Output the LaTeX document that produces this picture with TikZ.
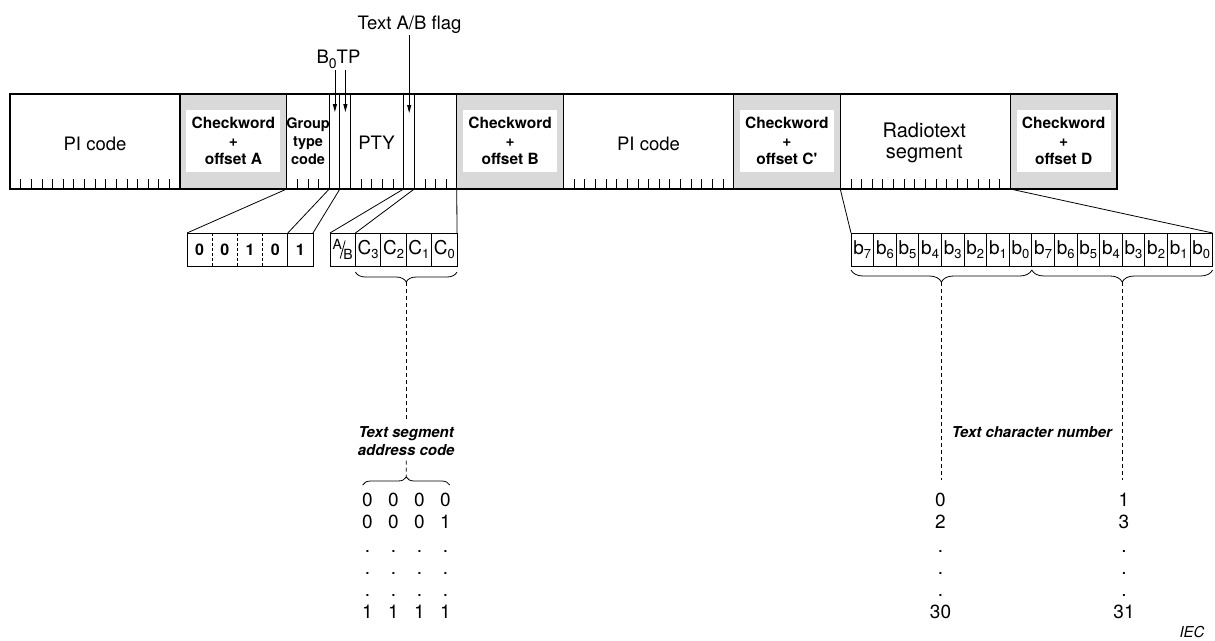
\documentclass[tikz,border=0pt]{standalone}
\usepackage{fontspec}
\setmainfont{TeX Gyre Heros}
\usetikzlibrary{arrows.meta,decorations.pathreplacing,calc}
\definecolor{cwgray}{RGB}{217,217,217}
\newcommand{\subx}[2]{#1\raisebox{-4.5pt}{\fontsize{13}{13}\selectfont #2}}
\begin{document}
\begin{tikzpicture}[x=1pt,y=-1pt,
 every node/.style={inner sep=0pt, outer sep=0pt},
 blk/.style={draw=black, line width=1.1pt, anchor=north west, minimum height=95pt},
 datab/.style={blk, fill=white, minimum width=170pt},
 cwb/.style={blk, fill=cwgray, minimum width=106.75pt},
 cwin/.style={fill=white, minimum width=94pt, minimum height=62pt, align=center, font=\fontsize{15.5}{18}\selectfont\bfseries},
 lbl/.style={font=\fontsize{18.5}{20}\selectfont, align=center},
 tick/.style={line width=0.7pt},
 sepl/.style={line width=0.9pt},
 link/.style={line width=0.8pt},
 arr/.style={line width=0.8pt, -{Triangle[length=8pt,width=4pt]}},
 bitc/.style={draw, line width=0.9pt, anchor=north west, minimum height=33pt},
 dsh/.style={line width=0.8pt, dash pattern=on 4pt off 3pt},
 brc/.style={decorate, line width=0.8pt},
 num/.style={anchor=base, font=\fontsize{19}{20}\selectfont},
 ital/.style={font=\fontsize{15}{18}\selectfont\bfseries\itshape, align=center},
]
\useasboundingbox (0,0) rectangle (1215,640);

% main bar
\node[datab] (piA) at (10,94) {};
\node[cwb] (cwA) at (180,94) {};
\node[datab] (blkB) at (286.75,94) {};
\node[cwb] (cwB) at (456.75,94) {};
\node[datab] (piC) at (563.5,94) {};
\node[cwb] (cwC) at (733.5,94) {};
\node[datab] (rtD) at (840.25,94) {};
\node[cwb] (cwD) at (1010.25,94) {};

\node[cwin] (cwAi) at ($(cwA.center)+(0,-1)$) {Checkword\\+\\offset A};
\node[cwin] (cwBi) at ($(cwB.center)+(0,-1)$) {Checkword\\+\\offset B};
\node[cwin] (cwCi) at ($(cwC.center)+(0,-1)$) {Checkword\\+\\offset C\textquotesingle};
\node[cwin] (cwDi) at ($(cwD.center)+(0,-1)$) {Checkword\\+\\offset D};

% ticks
\foreach \s in {10,563.5,840.25}{\foreach \k in {1,...,15}{\draw[tick] ({\s+\k*10.625},179) -- ({\s+\k*10.625},189);}}
\foreach \k in {1,2,3,7,8,9,10,13,14,15}{\draw[tick] ({286.75+\k*10.625},179) -- ({286.75+\k*10.625},189);}
\foreach \k in {4,5,6,11,12}{\draw[sepl] ({286.75+\k*10.625},94) -- ({286.75+\k*10.625},189);}

% labels in bar
\node[lbl] (piAt) at ($(piA.center)+(0,2.5)$) {PI code};
\node[lbl] (piCt) at ($(piC.center)+(0,2.5)$) {PI code};
\node[font=\fontsize{20}{21}\selectfont, align=center] (rtDt) at ($(rtD.center)+(-1,1.5)$) {Radiotext\\segment};
\node[font=\fontsize{14.5}{18}\selectfont\bfseries, align=center] (gtc) at (308.1,141) {Group\\type\\code};
\node[lbl] (pty) at (376.5,143) {PTY};

% top labels and arrows
\node[anchor=base, font=\fontsize{18.5}{20}\selectfont] (b0tp) at (338.5,63) {B\raisebox{-5pt}{\fontsize{14}{14}\selectfont 0}TP};
\node[anchor=base, font=\fontsize{18.5}{20}\selectfont] (abflag) at (409.5,29) {Text A/B flag};
\coordinate (b0s) at (334.9,70); \coordinate (b0e) at (334.9,112);
\coordinate (tps) at (345.4,70); \coordinate (tpe) at (345.4,112);
\coordinate (abs) at (409.2,35); \coordinate (abe) at (409.2,113);
\draw[arr] (b0s) -- (b0e);
\draw[arr] (tps) -- (tpe);
\draw[arr] (abs) -- (abe);

% left bit cells (group type code + B0)
\foreach \i/\v in {0/0,1/0,2/1,3/0,4/1}{
  \node[anchor=north west, minimum width=25.2pt, minimum height=33pt, font=\fontsize{16}{16}\selectfont\bfseries] (q\i) at ({187+\i*25.2},233) {\v};
}
\draw[line width=0.9pt] (q0.north west) rectangle (q4.south east);
\foreach \i in {1,2,3}{\draw[line width=0.7pt, dash pattern=on 3pt off 2pt] (q\i.north west) -- (q\i.south west);}
\draw[line width=0.9pt] (q4.north west) -- (q4.south west);

% A/B and segment address cells
\node[bitc, minimum width=25.4pt, font=\fontsize{14}{14}\selectfont] (ab) at (330,233) {\raisebox{5pt}{A}\hspace{1.5pt}\raisebox{-5.5pt}{B}};
\draw[line width=0.8pt] ($(ab.center)+(2.5,-9)$) -- ($(ab.center)+(-2.5,9)$);
\node[bitc, minimum width=25.4pt, font=\fontsize{19}{19}\selectfont] (c3) at (355.4,233) {\subx{C}{3}};
\node[bitc, minimum width=25.4pt, font=\fontsize{19}{19}\selectfont] (c2) at (380.8,233) {\subx{C}{2}};
\node[bitc, minimum width=25.4pt, font=\fontsize{19}{19}\selectfont] (c1) at (406.2,233) {\subx{C}{1}};
\node[bitc, minimum width=25.4pt, font=\fontsize{19}{19}\selectfont] (c0) at (431.6,233) {\subx{C}{0}};

% expansion lines (left)
\coordinate (gb4) at (329.25,189);
\coordinate (gb5) at (339.875,189);
\coordinate (gb11) at (403.625,189);
\coordinate (gb12) at (414.25,189);
\draw[link] (blkB.south west) -- (q0.north west);
\draw[link] (gb4) -- (q4.north west);
\draw[link] (gb5) -- (q4.north east);
\draw[link] (gb11) -- (ab.north west);
\draw[link] (gb12) -- (c3.north west);
\draw[link] (cwB.south west) -- (c0.north east);

% right bit cells
\foreach \i/\v in {1/7,2/6,3/5,4/4,5/3,6/2,7/1,8/0,9/7,10/6,11/5,12/4,13/3,14/2,15/1,16/0}{
  \node[bitc, minimum width=22.6pt, font=\fontsize{19}{19}\selectfont] (r\i) at ({851+(\i-1)*22.6},233) {\subx{b}{\v}};
}
\draw[link] (rtD.south west) -- (r1.north west);
\draw[link] (cwD.south west) -- (r16.north east);

% braces
\draw[brc, decoration={brace,mirror,amplitude=10pt}] ($(c3.south west)+(0,6)$) -- ($(c0.south east)+(0,6)$);
\coordinate (ctip) at ($(c3.south west)!0.5!(c0.south east)+(0,16)$);
\draw[brc, decoration={brace,mirror,amplitude=12pt}] ($(r1.south west)+(0,4)$) -- ($(r8.south east)+(0,4)$);
\draw[brc, decoration={brace,mirror,amplitude=12pt}] ($(r9.south west)+(0,4)$) -- ($(r16.south east)+(0,4)$);
\coordinate (rt1) at ($(r1.south west)!0.5!(r8.south east)+(0,16)$);
\coordinate (rt2) at ($(r9.south west)!0.5!(r16.south east)+(0,16)$);
\coordinate (dashend) at (0,480);

% text segment address code
\node[ital, inner sep=5pt] (tsac) at (406.2,441) {Text segment\\address code};
\draw[dsh] (ctip) -- (tsac.north);
\coordinate (bl) at (362.7,485);
\coordinate (br) at (449.7,485);
\draw[brc, decoration={brace,amplitude=8pt}] (bl) -- (br);
\coordinate (btip) at ($(bl)!0.5!(br)+(0,-8)$);
\draw[dsh] (tsac.south) -- (btip);

% text character number
\draw[dsh] (rt1) -- (rt1 |- dashend);
\draw[dsh] (rt2) -- (rt2 |- dashend);
\node[ital, anchor=base] (tcn) at (1032,437) {Text character number};

% numbers (left)
\foreach \y/\vs in {506/{0,0,0,0},528/{0,0,0,1},552/{.,.,.,.},574/{.,.,.,.},596/{.,.,.,.},618/{1,1,1,1}}{
  \foreach \v [count=\i from 0] in \vs {\node[num] (L-\y-\i) at ({367.5+26*\i},\y) {\v};}
}
% numbers (right)
\foreach \y/\a/\b in {506/0/1,528/2/3,552/./.,574/./.,596/./.,618/30/31}{
  \node[num] (RL-\y) at (940.5,\y) {\a};
  \node[num] (RR-\y) at (1124,\y) {\b};
}

\node[anchor=base, font=\fontsize{15}{15}\selectfont\itshape] (iec) at (1192,637) {IEC};
\end{tikzpicture}
\end{document}
